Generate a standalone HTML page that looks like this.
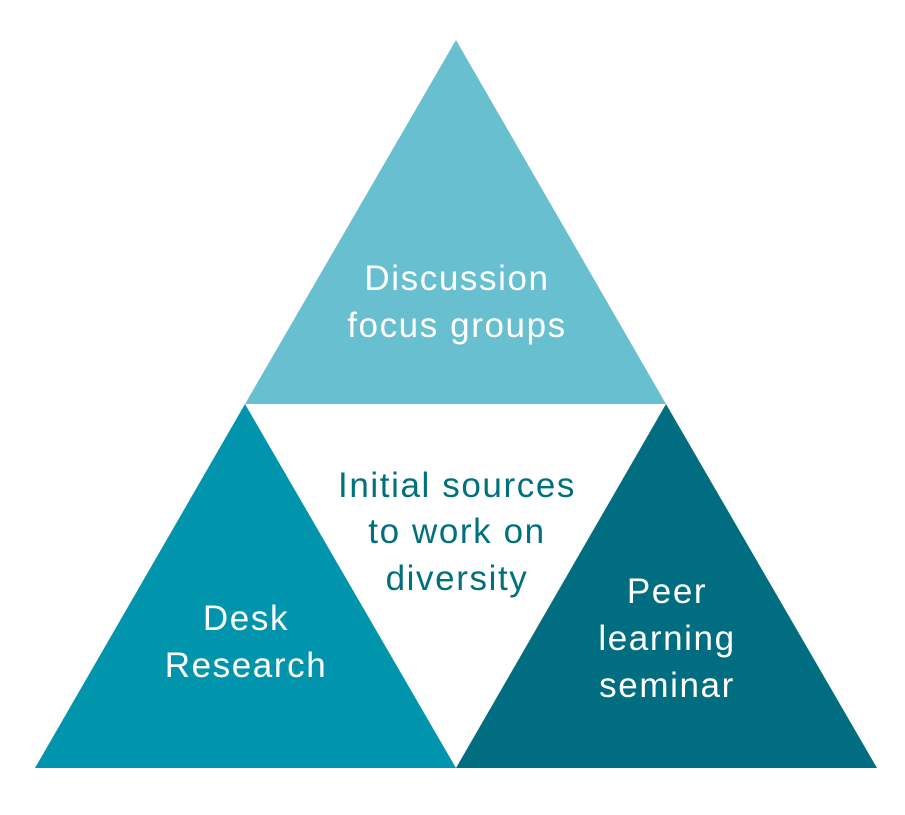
<!DOCTYPE html>
<html>
<head>
<meta charset="utf-8">
<style>
html,body{margin:0;padding:0;background:#fff;}
svg{display:block;}
text{font-family:"Liberation Sans",sans-serif;font-size:35px;letter-spacing:1.6px;text-anchor:middle;}
</style>
</head>
<body>
<svg width="905" height="815" viewBox="0 0 905 815" xmlns="http://www.w3.org/2000/svg">
<rect width="905" height="815" fill="#fff"/>
<polygon points="456,40 666,404 245,404" fill="#67bfcf"/>
<polygon points="245,404 456,768 35,768" fill="#0095ad"/>
<polygon points="666,404 877,768 456,768" fill="#006e80"/>
<g fill="#fff">
<text x="457" y="290">Discussion</text>
<text x="457" y="337">focus groups</text>
<text x="246" y="630">Desk</text>
<text x="246" y="677">Research</text>
<text x="667" y="603">Peer</text>
<text x="667" y="650">learning</text>
<text x="667" y="697">seminar</text>
</g>
<g fill="#00707f">
<text x="457" y="497">Initial sources</text>
<text x="457" y="543">to work on</text>
<text x="457" y="590">diversity</text>
</g>
</svg>
</body>
</html>
